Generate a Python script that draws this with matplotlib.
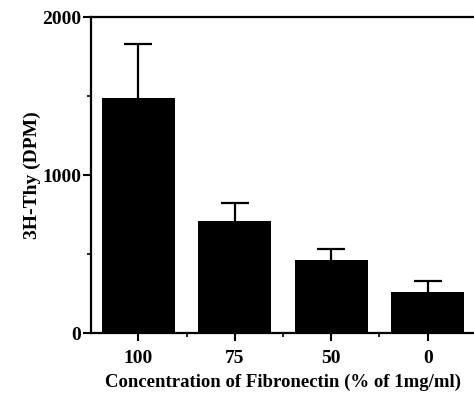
import matplotlib
matplotlib.use("Agg")
import matplotlib.pyplot as plt
import numpy as np

categories = ["100", "75", "50", "0"]
values = [1490, 712, 460, 258]
errors = [340, 110, 72, 70]
yticks = [0, 1000, 2000]

plt.rcParams['font.family'] = ['Liberation Serif', 'DejaVu Serif']
plt.rcParams['font.weight'] = 'bold'

fig = plt.figure(figsize=(4.74, 3.99), dpi=100)
ax = fig.add_axes([0.192, 0.165, 0.808, 0.792])
x = np.arange(len(categories))
ax.bar(x, values, width=0.76, color='black', zorder=3)
eb = ax.errorbar(x, values, yerr=[np.zeros(len(values)), errors], fmt='none',
                 ecolor='black', elinewidth=1.6, capsize=10, capthick=1.6, zorder=2)
caps = eb[1]
if len(caps) >= 2:
    caps[0].set_visible(False)
ax.set_xlim(-0.49, 3.48)
ax.set_ylim(0, 2000)
ax.set_yticks(yticks)
ax.set_yticks([500, 1500], minor=True)
ax.set_xticks(x)
ax.set_xticks(x[:-1] + 0.5, minor=True)
ax.set_xticklabels(categories, fontsize=14, fontweight='bold')
ax.set_yticklabels([str(t) for t in yticks], fontsize=14, fontweight='bold')
ax.tick_params(axis='both', which='major', direction='out', length=6, width=1.5)
ax.tick_params(axis='both', which='minor', direction='out', length=3, width=1.2)
ax.tick_params(axis='x', pad=6)
ax.tick_params(axis='y', pad=1)
for s in ['left', 'top', 'bottom']:
    ax.spines[s].set_linewidth(1.6)
ax.spines['right'].set_visible(False)
ax.set_ylabel("3H-Thy (DPM)", fontsize=14, fontweight='bold', labelpad=1)
ax.set_xlabel("Concentration of Fibronectin (% of 1mg/ml)", fontsize=13.5,
              fontweight='bold', labelpad=5)
fig.savefig("out.png", dpi=100)
